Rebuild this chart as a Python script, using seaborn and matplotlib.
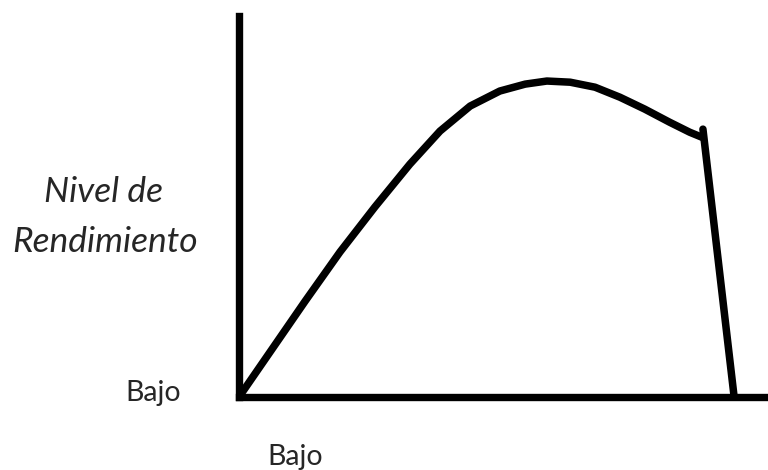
import seaborn as sns
import matplotlib.pyplot as plt

# curve (0-100 scale on both axes)
nivel_x = [0, 12.5, 19.1, 25.7, 32.3, 38.0, 43.7, 49.3, 54.1, 58.2, 62.6, 67.3, 72.0, 76.7, 81.4, 85.2, 87.5]
nivel_y = [0, 24.9, 37.7, 49.4, 60.5, 69.1, 75.6, 79.5, 81.3, 82.1, 81.8, 80.5, 77.9, 74.8, 71.4, 68.8, 67.5]

# short tick and the sharp drop at the end
caida_x = [87.7, 93.6]
caida_y = [69.6, 0]

y_label = ["Nivel de", "Rendimiento"]
low_label = "Bajo"

sns.set_style("white")
plt.rcParams["font.family"] = ["Lato", "DejaVu Sans"]

fig = plt.figure(figsize=(7.68, 4.70), dpi=100)
ax = fig.add_axes([239 / 768, 73 / 470, 529 / 768, 381 / 470])

sns.lineplot(x=nivel_x, y=nivel_y, sort=False, estimator=None, color="black",
             linewidth=5.4, solid_joinstyle="round", ax=ax)
sns.lineplot(x=caida_x, y=caida_y, sort=False, estimator=None, color="black",
             linewidth=5.4, ax=ax)

ax.set_xlim(0, 100)
ax.set_ylim(0, 99)
ax.set_xticks([])
ax.set_yticks([])
for side in ["top", "right"]:
    ax.spines[side].set_visible(False)
for side in ["left", "bottom"]:
    ax.spines[side].set_linewidth(5.3)
    ax.spines[side].set_color("black")
    ax.spines[side].set_capstyle("projecting")

fig.text(103 / 768, 1 - 202 / 470, y_label[0], ha="center", va="baseline",
         fontsize=25.5, style="italic")
fig.text(105 / 768, 1 - 252 / 470, y_label[1], ha="center", va="baseline",
         fontsize=25.5, style="italic")
fig.text(153 / 768, 1 - 401 / 470, low_label, ha="center", va="baseline", fontsize=20.5)
fig.text(295 / 768, 1 - 465 / 470, low_label, ha="center", va="baseline", fontsize=20.5)

fig.savefig("out.png", dpi=100)
